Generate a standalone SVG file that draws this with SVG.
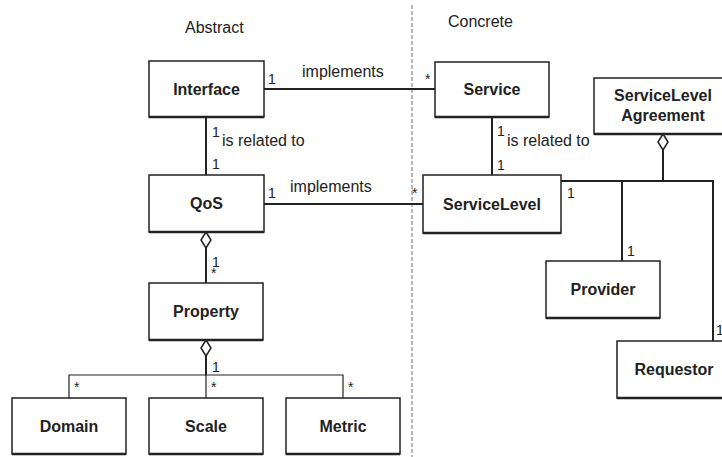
<svg xmlns="http://www.w3.org/2000/svg" width="722" height="457" viewBox="0 0 722 457">
<style>
.box{fill:#fff;stroke:#222;stroke-width:1.5}
.base{stroke:#222;stroke-width:2.5}
.lbl{font-family:"Liberation Sans",Arial,sans-serif;font-weight:bold;font-size:16px;fill:#222;text-anchor:middle}
.t{font-family:"Liberation Sans",Arial,sans-serif;font-size:16px;fill:#222}
.m{font-family:"Liberation Sans",Arial,sans-serif;font-size:14px;fill:#222}
.c{fill:none;stroke:#222;stroke-width:2}
.thin{fill:none;stroke:#222;stroke-width:1.2}
.dia{fill:#fff;stroke:#222;stroke-width:1.5}
</style>
<rect width="722" height="457" fill="#fff"/>
<line x1="412" y1="5" x2="412" y2="457" stroke="#888" stroke-width="1.2" stroke-dasharray="4 2"/>
<text class="t" x="185" y="33">Abstract</text>
<text class="t" x="448" y="27">Concrete</text>

<g id="connectors">
  <line class="c" x1="264" y1="89" x2="435" y2="89"/>
  <line class="c" x1="264" y1="204" x2="423" y2="204"/>
  <line class="c" x1="206" y1="117" x2="206" y2="175"/>
  <line class="c" x1="492" y1="117" x2="492" y2="175"/>
  <polygon class="dia" points="206,232 211,240 206,248 201,240"/>
  <line class="c" x1="206" y1="248" x2="206" y2="283"/>
  <polygon class="dia" points="206,340 211,348 206,356 201,348"/>
  <line class="c" x1="206" y1="356" x2="206" y2="375"/>
  <polyline class="thin" points="69,398 69,375 343,375 343,398"/>
  <line class="thin" x1="206" y1="375" x2="206" y2="398"/>
  <polygon class="dia" points="663,134 668,142 663,150 658,142"/>
  <line class="c" x1="663" y1="150" x2="663" y2="181"/>
  <polyline class="c" points="561,181 713,181 713,341"/>
  <line class="c" x1="622" y1="181" x2="622" y2="261"/>
  <text class="t" x="302" y="77">implements</text>
  <text class="t" x="290" y="192">implements</text>
  <text class="t" x="222" y="146">is related to</text>
  <text class="t" x="507" y="146">is related to</text>
  <text class="m" x="268" y="84">1</text>
  <text class="m" x="425" y="84">*</text>
  <text class="m" x="268" y="198">1</text>
  <text class="m" x="412" y="198">*</text>
  <text class="m" x="212" y="137">1</text>
  <text class="m" x="212" y="169">1</text>
  <text class="m" x="497" y="136">1</text>
  <text class="m" x="497" y="170">1</text>
  <text class="m" x="212" y="267">1</text>
  <text class="m" x="211" y="278">*</text>
  <text class="m" x="212" y="372">1</text>
  <text class="m" x="74" y="392">*</text>
  <text class="m" x="211" y="392">*</text>
  <text class="m" x="348" y="392">*</text>
  <text class="m" x="567" y="198">1</text>
  <text class="m" x="627" y="256">1</text>
  <text class="m" x="716" y="335">1</text>
</g>

<g id="interface"><rect class="box" x="149" y="61" width="115" height="56"/><line class="base" x1="149" y1="117" x2="264" y2="117"/><text class="lbl" x="206.5" y="95">Interface</text></g>
<g id="qos"><rect class="box" x="149" y="175" width="115" height="57"/><line class="base" x1="149" y1="232" x2="264" y2="232"/><text class="lbl" x="206.5" y="209">QoS</text></g>
<g id="property"><rect class="box" x="149" y="283" width="114" height="57"/><line class="base" x1="149" y1="340" x2="263" y2="340"/><text class="lbl" x="206" y="317">Property</text></g>
<g id="domain"><rect class="box" x="12" y="398" width="114" height="56"/><line class="base" x1="12" y1="454" x2="126" y2="454"/><text class="lbl" x="69" y="432">Domain</text></g>
<g id="scale"><rect class="box" x="149" y="398" width="114" height="56"/><line class="base" x1="149" y1="454" x2="263" y2="454"/><text class="lbl" x="206" y="432">Scale</text></g>
<g id="metric"><rect class="box" x="286" y="398" width="114" height="56"/><line class="base" x1="286" y1="454" x2="400" y2="454"/><text class="lbl" x="343" y="432">Metric</text></g>
<g id="service"><rect class="box" x="435" y="62" width="114" height="55"/><line class="base" x1="435" y1="117" x2="549" y2="117"/><text class="lbl" x="492" y="95">Service</text></g>
<g id="servicelevel"><rect class="box" x="423" y="175" width="138" height="58"/><line class="base" x1="423" y1="233" x2="561" y2="233"/><text class="lbl" x="492" y="210">ServiceLevel</text></g>
<g id="sla"><rect class="box" x="594" y="78" width="138" height="56"/><line class="base" x1="594" y1="134" x2="732" y2="134"/><text class="lbl" x="663" y="101">ServiceLevel</text><text class="lbl" x="663" y="121">Agreement</text></g>
<g id="provider"><rect class="box" x="546" y="261" width="114" height="57"/><line class="base" x1="546" y1="318" x2="660" y2="318"/><text class="lbl" x="603" y="295">Provider</text></g>
<g id="requestor"><rect class="box" x="617" y="341" width="114" height="57"/><line class="base" x1="617" y1="398" x2="731" y2="398"/><text class="lbl" x="674" y="375">Requestor</text></g>
</svg>
